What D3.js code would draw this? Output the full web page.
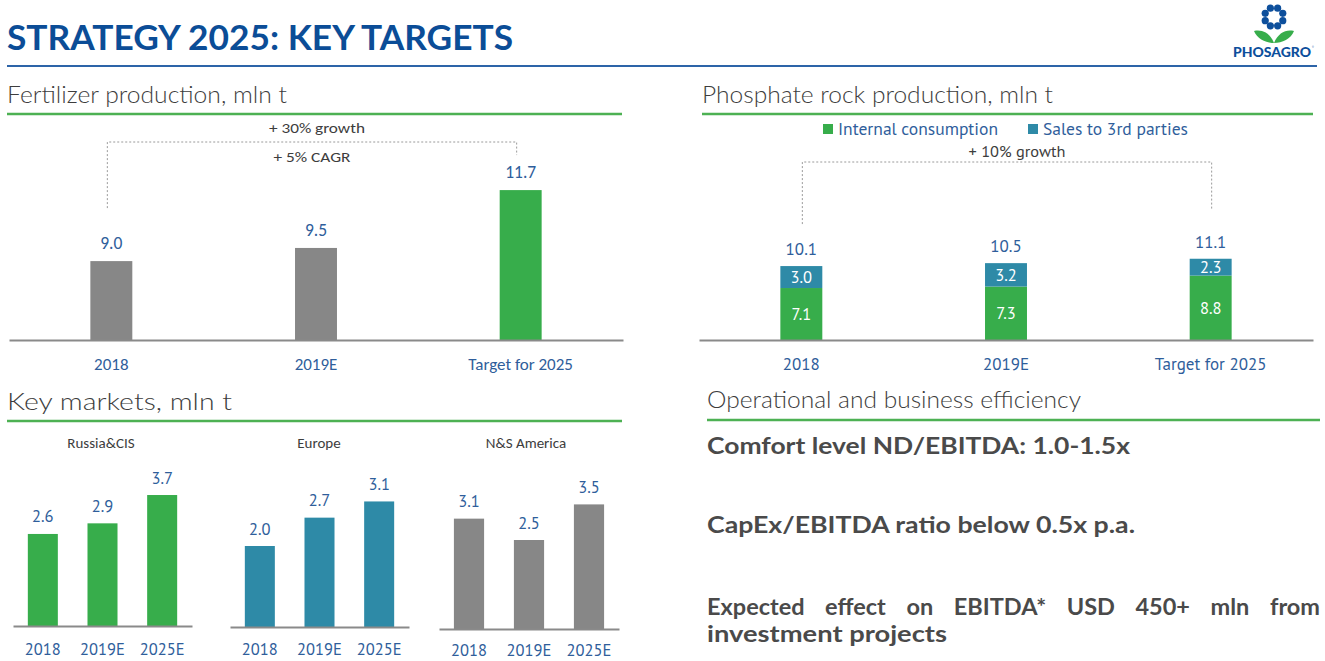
<!DOCTYPE html>
<html><head><meta charset="utf-8">
<script src="https://cdn.jsdelivr.net/npm/d3@7"></script>
<style>
html,body{margin:0;padding:0;background:#fff;}
svg{display:block;}
</style></head>
<body><svg id="c" width="1325" height="661"></svg>
<script>
// ---------- DATA ----------
const pageTitle = "STRATEGY 2025: KEY TARGETS";
const fertCategories = ["2018", "2019E", "Target for 2025"];
const fertValues = [9.0, 9.5, 11.7];
const fertNotes = ["+ 30% growth", "+ 5% CAGR"];

const phosCategories = ["2018", "2019E", "Target for 2025"];
const phosSeries = ["Internal consumption", "Sales to 3rd parties"];
const phosInternal = [7.1, 7.3, 8.8];
const phosSales = [3.0, 3.2, 2.3];
const phosNote = "+ 10% growth";

const marketYears = ["2018", "2019E", "2025E"];
const marketNames = ["Russia&CIS", "Europe", "N&S America"];
const russiaValues = [2.6, 2.9, 3.7];
const europeValues = [2.0, 2.7, 3.1];
const americaValues = [3.1, 2.5, 3.5];

const sectionTitles = ["Fertilizer production, mln t", "Phosphate rock production, mln t", "Key markets, mln t", "Operational and business efficiency"];
const efficiencyLines = ["Comfort level ND/EBITDA: 1.0-1.5x", "CapEx/EBITDA ratio below 0.5x p.a.", "Expected effect on EBITDA* USD 450+ mln from", "investment projects"];

// ---------- STYLE ----------
const C = {
  green: "#37ad4b", grey: "#878787", teal: "#2e8aa7", titleBlue: "#0b4d97",
  labelBlue: "#2f5e9b", text: "#3d3d3d", axis: "#8a8a8a", line: "#4db153", dark: "#4a4a4a"
};
const F1 = "Carlito, Lato, 'Open Sans', sans-serif";
const F2 = "'PT Sans', 'Noto Sans', 'Open Sans', sans-serif";
const fmt = d3.format(".1f");

const svg = d3.select("#c");

function txt(g, x, y, s, o = {}) {
  const t = g.append("text").attr("x", x).attr("y", y).text(s)
    .attr("font-family", o.family || F1).attr("font-size", o.size || 16)
    .attr("font-weight", o.weight || 400).attr("fill", o.fill || C.text)
    .attr("text-anchor", o.anchor || "start");
  if (o.len) t.attr("textLength", o.len).attr("lengthAdjust", "spacingAndGlyphs");
  if (o.dy) t.attr("dy", o.dy);
  return t;
}

// ---------- HEADER ----------
txt(svg, 7, 50, pageTitle, {size: 34, weight: 700, fill: C.titleBlue, len: 506, family: "Lato, 'Open Sans', sans-serif"});
svg.append("line").attr("x1", 7).attr("x2", 1317).attr("y1", 66).attr("y2", 66).attr("stroke", "#2d64a8").attr("stroke-width", 2);

// logo
const logo = svg.append("g");
const cx = 1274, cy = 17;
d3.range(8).forEach(i => {
  const a = (i * 45 + 22.5) * Math.PI / 180;
  logo.append("circle").attr("cx", cx + 9.5 * Math.sin(a)).attr("cy", cy - 9.5 * Math.cos(a)).attr("r", 3.6).attr("fill", "#0d4f9c");
});
logo.append("path").attr("d", `M${cx},43 C${cx-4},33 ${cx-12},29 ${cx-20},31 C${cx-17},39 ${cx-8},43 ${cx},43 Z`).attr("fill", C.green);
logo.append("path").attr("d", `M${cx},43 C${cx+4},33 ${cx+12},29 ${cx+20},31 C${cx+17},39 ${cx+8},43 ${cx},43 Z`).attr("fill", C.green);
txt(logo, 1233, 57, "PHOSAGRO", {size: 14, weight: 900, fill: "#0d4f9c", len: 78, family: "Lato, 'Open Sans', sans-serif"});
txt(logo, 1312, 50, "®", {size: 5, fill: "#0d4f9c"});

// ---------- SECTION TITLES ----------
function section(x1, x2, yBase, yLine, s, len) {
  txt(svg, x1, yBase, s, {size: 23, weight: 300, fill: C.text, len: len, family: "Lato, 'Open Sans', sans-serif"});
  svg.append("line").attr("x1", x1).attr("x2", x2).attr("y1", yLine).attr("y2", yLine).attr("stroke", C.line).attr("stroke-width", 2.5);
}
section(7, 622, 103, 114, sectionTitles[0], 280);
section(702, 1313, 103, 114, sectionTitles[1], 351);
section(7, 622, 410, 421, sectionTitles[2], 225);
section(707, 1320, 408, 420, sectionTitles[3], 374);

// ---------- FERTILIZER ----------
{
  const g = svg.append("g");
  const x = d3.scaleBand().domain(fertCategories).range([9, 623]).paddingInner(0.795).paddingOuter(0.3975);
  const y = d3.scaleLinear().domain([6, 12]).range([340, 340 - 6 * 26.3]);
  const data = fertCategories.map((c, i) => ({c, v: fertValues[i]}));
  g.selectAll("rect").data(data).join("rect")
    .attr("x", d => x(d.c)).attr("width", x.bandwidth())
    .attr("y", d => y(d.v)).attr("height", d => y(6) - y(d.v))
    .attr("fill", (d, i) => i === 2 ? C.green : C.grey);
  g.selectAll("text.v").data(data).join("text").attr("class", "v")
    .attr("x", d => x(d.c) + x.bandwidth() / 2).attr("y", d => y(d.v) - 12)
    .attr("text-anchor", "middle").attr("font-family", F1).attr("font-size", 17.5).attr("fill", C.labelBlue)
    .text(d => fmt(d.v));
  const ax = g.append("g").attr("transform", "translate(0,340)")
    .call(d3.axisBottom(x).tickSize(0).tickSizeOuter(0).tickPadding(18));
  ax.select(".domain").attr("stroke", C.axis).attr("stroke-width", 2);
  ax.selectAll("text").attr("font-family", F1).attr("font-size", 17).attr("fill", C.labelBlue);
  // bracket
  const xl = x(fertCategories[0]) + x.bandwidth() / 2 - 4;
  const xr = x(fertCategories[2]) + x.bandwidth() / 2 - 4;
  const yt = 142;
  g.append("path").attr("d", `M${xl},${y(fertValues[0]) - 53}V${yt}H${xr}V${y(fertValues[2]) - 35}`)
    .attr("fill", "none").attr("stroke", "#9a9a9a").attr("stroke-width", 1).attr("stroke-dasharray", "2,2");
  txt(g, 317, 133, fertNotes[0], {size: 15, anchor: "middle", len: 96});
  txt(g, 312, 162, fertNotes[1], {size: 15, anchor: "middle", len: 77});
}

// ---------- PHOSPHATE ----------
{
  const g = svg.append("g");
  const x = d3.scaleBand().domain(phosCategories).range([699, 1313]).paddingInner(0.795).paddingOuter(0.3975);
  const y = d3.scaleLinear().domain([0, 12]).range([340, 340 - 12 * 7.32]);
  const rows = phosCategories.map((c, i) => ({c, internal: phosInternal[i], sales: phosSales[i]}));
  const stack = d3.stack().keys(["internal", "sales"])(rows);
  const colors = [C.green, C.teal];
  stack.forEach((layer, li) => {
    g.append("g").selectAll("rect").data(layer).join("rect")
      .attr("x", d => x(d.data.c)).attr("width", x.bandwidth())
      .attr("y", d => y(d[1])).attr("height", d => y(d[0]) - y(d[1]))
      .attr("fill", colors[li]);
    g.append("g").selectAll("text").data(layer).join("text")
      .attr("x", d => x(d.data.c) + x.bandwidth() / 2).attr("y", d => (y(d[0]) + y(d[1])) / 2)
      .attr("dy", "0.36em").attr("text-anchor", "middle").attr("font-family", F2).attr("font-size", 16.5).attr("fill", "#fff")
      .text(d => fmt(d[1] - d[0]));
  });
  const top = stack[1];
  g.append("g").selectAll("text").data(top).join("text")
    .attr("x", d => x(d.data.c) + x.bandwidth() / 2).attr("y", d => y(d[1]) - 11)
    .attr("text-anchor", "middle").attr("font-family", F2).attr("font-size", 17).attr("fill", C.labelBlue)
    .text(d => fmt(d[1]));
  const ax = g.append("g").attr("transform", "translate(0,340)")
    .call(d3.axisBottom(x).tickSize(0).tickSizeOuter(0).tickPadding(18));
  ax.select(".domain").attr("stroke", C.axis).attr("stroke-width", 2);
  ax.selectAll("text").attr("font-family", F2).attr("font-size", 17).attr("fill", C.labelBlue);
  // legend
  const lx = [823, 1028], lw = [160, 145];
  phosSeries.forEach((s, i) => {
    g.append("rect").attr("x", lx[i]).attr("y", 124).attr("width", 10).attr("height", 10).attr("fill", colors[i]);
    txt(g, lx[i] + 15, 135, s, {size: 16.5, family: F2, fill: C.labelBlue, len: lw[i]});
  });
  // bracket
  const xl = x(phosCategories[0]) + x.bandwidth() / 2 + 1;
  const xr = x(phosCategories[2]) + x.bandwidth() / 2 + 1;
  g.append("path").attr("d", `M${xl},${y(d3.sum([phosInternal[0], phosSales[0]])) - 42}V162H${xr}V${y(d3.sum([phosInternal[2], phosSales[2]])) - 49}`)
    .attr("fill", "none").attr("stroke", "#9a9a9a").attr("stroke-width", 1).attr("stroke-dasharray", "2,2");
  txt(g, 1017, 157, phosNote, {size: 15, family: F2, anchor: "middle", len: 97});
}

// ---------- KEY MARKETS ----------
{
  const panels = [
    {name: marketNames[0], vals: russiaValues, color: C.green, r: [13, 192], base: 626, max: 4, ppu: 35.4, tx: 101, pad: 17},
    {name: marketNames[1], vals: europeValues, color: C.teal, r: [230, 409], base: 627, max: 3.5, ppu: 40.5, tx: 319, pad: 16.5},
    {name: marketNames[2], vals: americaValues, color: C.grey, r: [439, 619], base: 629, max: 4, ppu: 35.6, tx: 526, pad: 15.5}
  ];
  panels.forEach(p => {
    const g = svg.append("g");
    const x = d3.scaleBand().domain(marketYears).range(p.r).paddingInner(0.497).paddingOuter(0.2485);
    const y = d3.scaleLinear().domain([0, p.max]).range([p.base, p.base - p.max * p.ppu]);
    const data = marketYears.map((c, i) => ({c, v: p.vals[i]}));
    g.selectAll("rect").data(data).join("rect")
      .attr("x", d => x(d.c)).attr("width", x.bandwidth())
      .attr("y", d => y(d.v)).attr("height", d => y(0) - y(d.v)).attr("fill", p.color);
    g.selectAll("text.v").data(data).join("text").attr("class", "v")
      .attr("x", d => x(d.c) + x.bandwidth() / 2).attr("y", d => y(d.v) - 11.5)
      .attr("text-anchor", "middle").attr("font-family", F2).attr("font-size", 16.5).attr("fill", C.labelBlue)
      .text(d => fmt(d.v));
    const ax = g.append("g").attr("transform", `translate(0,${p.base})`)
      .call(d3.axisBottom(x).tickSize(0).tickSizeOuter(0).tickPadding(p.pad));
    ax.select(".domain").attr("stroke", C.axis).attr("stroke-width", 2);
    ax.selectAll("text").attr("font-family", F2).attr("font-size", 16.5).attr("fill", C.labelBlue);
    txt(g, p.tx, 448, p.name, {size: 15, anchor: "middle"});
  });
}

// ---------- EFFICIENCY ----------
{
  const g = svg.append("g");
  const o = {size: 23.5, weight: 700, fill: C.dark, family: "Lato, 'Open Sans', sans-serif"};
  txt(g, 707, 454, efficiencyLines[0], Object.assign({len: 423}, o));
  txt(g, 707, 533, efficiencyLines[1], Object.assign({len: 428}, o));
  // justified line
  const words = efficiencyLines[2].split(" ");
  const tmp = words.map(w => txt(g, 0, 615, w, o));
  const widths = tmp.map(t => t.node().getComputedTextLength());
  const total = 613, scale = Math.min(1, (total - 9 * (words.length - 1)) / d3.sum(widths));
  const sw = widths.map(w => w * scale);
  const gap = (total - d3.sum(sw)) / (words.length - 1);
  let cur = 707;
  tmp.forEach((t, i) => { t.attr("x", cur).attr("textLength", sw[i]).attr("lengthAdjust", "spacingAndGlyphs"); cur += sw[i] + gap; });
  txt(g, 707, 642, efficiencyLines[3], Object.assign({len: 240}, o));
}
</script></body></html>
